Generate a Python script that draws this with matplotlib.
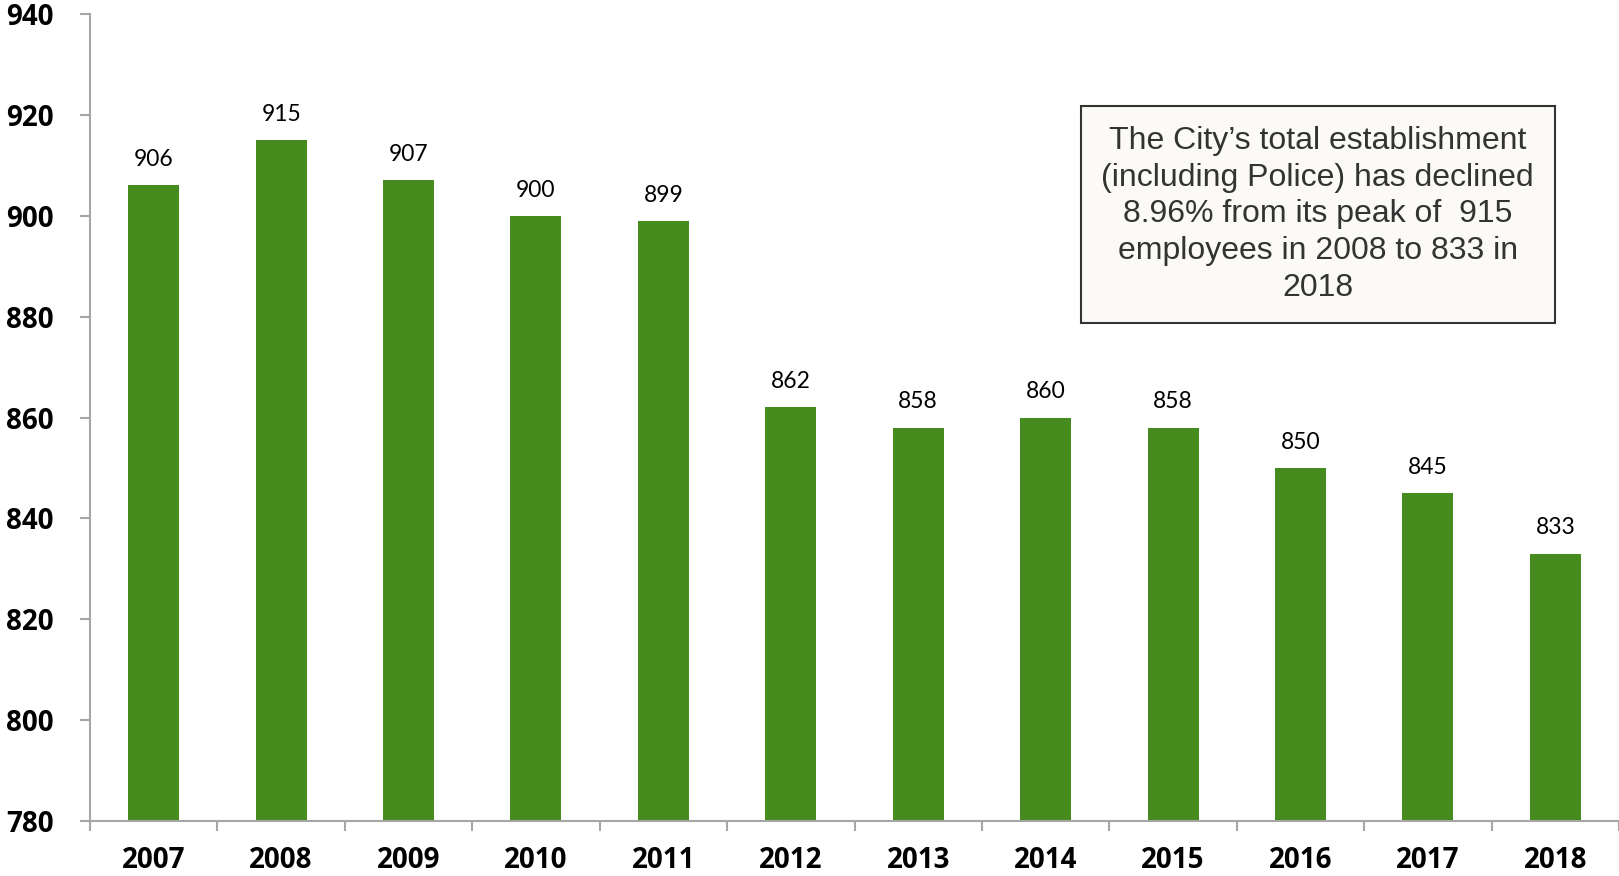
import numpy as np
import matplotlib.pyplot as plt

# Datos
years = ['2007', '2008', '2009', '2010', '2011', '2012',
         '2013', '2014', '2015', '2016', '2017', '2018']
employees = [906, 915, 907, 900, 899, 862, 858, 860, 858, 850, 845, 833]
y_ticks = [780, 800, 820, 840, 860, 880, 900, 920, 940]
note = ("The City\u2019s total establishment\n(including Police) has declined\n"
        "8.96% from its peak of  915\nemployees in 2008 to 833 in\n2018")

green = '#468b1d'
axis_gray = '#a6a6a6'
tick_font = dict(fontsize=20, fontweight='bold', family='Open Sans')

fig = plt.figure(figsize=(16.19, 8.76), dpi=100)
ax = fig.add_axes([0.0556, 0.0628, 0.9444, 0.9212])

x = np.arange(len(years))
ax.bar(x, employees, width=0.4, color=green)

# Etiquetas de valores
for xi, v in zip(x, employees):
    ax.annotate(str(v), (xi, v), xytext=(0, 18.5), textcoords='offset points',
                ha='center', va='center', fontsize=16.5, family='Lato', color='black')

ax.set_ylim(780, 940)
ax.set_xlim(-0.5, len(years) - 0.5)
ax.set_yticks(y_ticks)
ax.set_yticklabels([str(t) for t in y_ticks], **tick_font)

# Ticks del eje x en los bordes de categoria, etiquetas en el centro
ax.set_xticks(np.arange(-0.5, len(years), 1.0))
ax.set_xticklabels([])
ax.set_xticks(x, minor=True)
ax.set_xticklabels(years, minor=True, **tick_font)
ax.tick_params(axis='x', which='major', length=7, width=1.5, color=axis_gray)
ax.tick_params(axis='x', which='minor', length=0, pad=18)
ax.tick_params(axis='y', length=7, width=1.5, color=axis_gray, pad=19)

for s in ['top', 'right']:
    ax.spines[s].set_visible(False)
for s in ['left', 'bottom']:
    ax.spines[s].set_color(axis_gray)
    ax.spines[s].set_linewidth(1.5)

# Cuadro de texto
ax.text(0.803, 0.7516, note, transform=ax.transAxes, ha='center', va='center',
        fontsize=23, family='Liberation Sans', color='#333333', linespacing=1.29,
        bbox=dict(boxstyle='square,pad=0.64', facecolor='#fbfaf7',
                  edgecolor='#333333', linewidth=1.5))

fig.savefig('out.png', dpi=100)
